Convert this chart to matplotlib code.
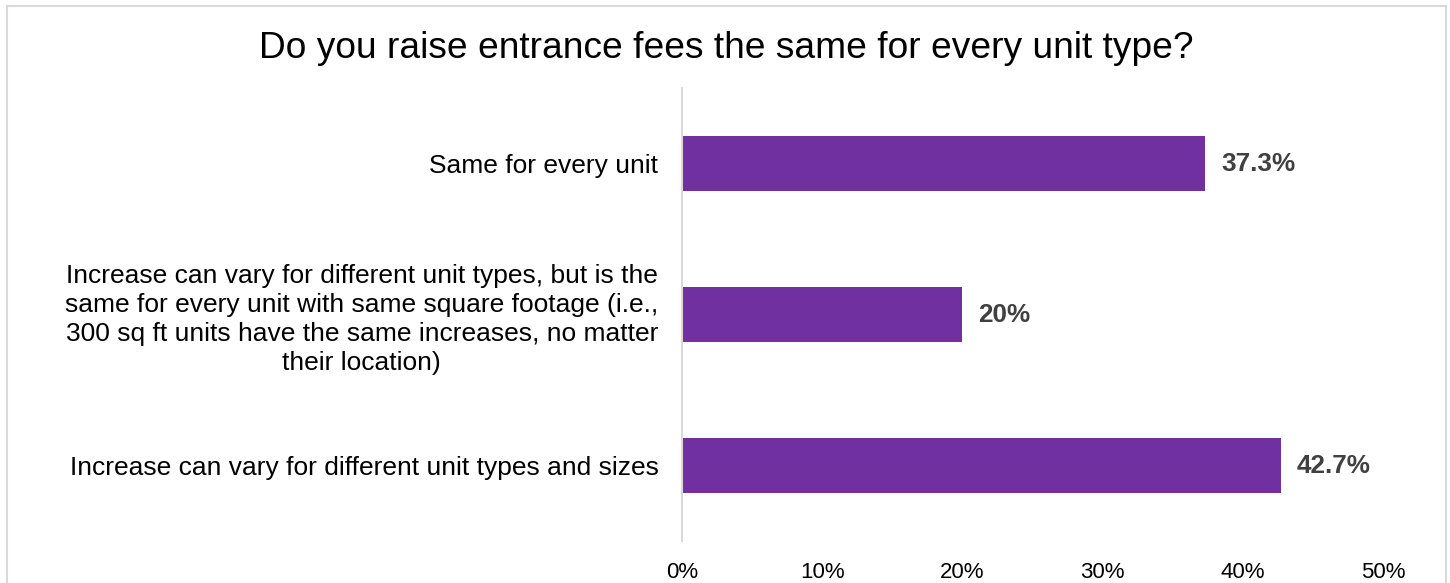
import matplotlib.pyplot as plt
from matplotlib.patches import Rectangle

# survey answers, top to bottom
answers = [
    'Same for every unit',
    'Increase can vary for different unit types, but is the\n'
    'same for every unit with same square footage (i.e.,\n'
    '300 sq ft units have the same increases, no matter\n'
    'their location)',
    'Increase can vary for different unit types and sizes',
]
shares = [37.3, 20, 42.7]
share_labels = ['37.3%', '20%', '42.7%']
ticks = [0, 10, 20, 30, 40, 50]
tick_labels = ['0%', '10%', '20%', '30%', '40%', '50%']

plt.rcParams['font.family'] = ['Liberation Sans', 'DejaVu Sans']

fig = plt.figure(figsize=(14.5, 5.83), dpi=100)
W, H = 1450, 583

# light frame round the whole chart (runs off the bottom edge)
fig.patches.append(Rectangle((7 / W, -0.2), (1446 - 7) / W, 1.2 - 6 / H,
                             transform=fig.transFigure, fill=False,
                             edgecolor='#d9d9d9', linewidth=1.5))

ax = fig.add_axes([682 / W, 1 - 541 / H, (1383 - 682) / W, (541 - 88) / H])

ypos = list(range(len(answers)))
ax.barh(ypos, shares, height=0.365, color='#7030A0')

for y, v, lab in zip(ypos, shares, share_labels):
    ax.text(v + 1.15, y, lab, va='center', ha='left', fontsize=18.8,
            fontweight='bold', color='#404040')

ax.set_xlim(0, 50)
ax.set_ylim(2.5, -0.5)
ax.set_xticks(ticks)
ax.set_xticklabels(tick_labels, fontsize=16)
ax.set_yticks(ypos)
ax.set_yticklabels(answers, fontsize=19, ha='right', multialignment='center',
                   linespacing=1.25)
ax.tick_params(axis='y', length=0, pad=17)
ax.tick_params(axis='x', length=0, pad=15)

for s in ['top', 'right', 'bottom']:
    ax.spines[s].set_visible(False)
ax.spines['left'].set_color('#d9d9d9')
ax.spines['left'].set_linewidth(1.5)

fig.text(726 / W, 1 - 48 / H, 'Do you raise entrance fees the same for every unit type?',
         ha='center', va='center', fontsize=26.7, color='black')

fig.savefig('out.png', dpi=100)
